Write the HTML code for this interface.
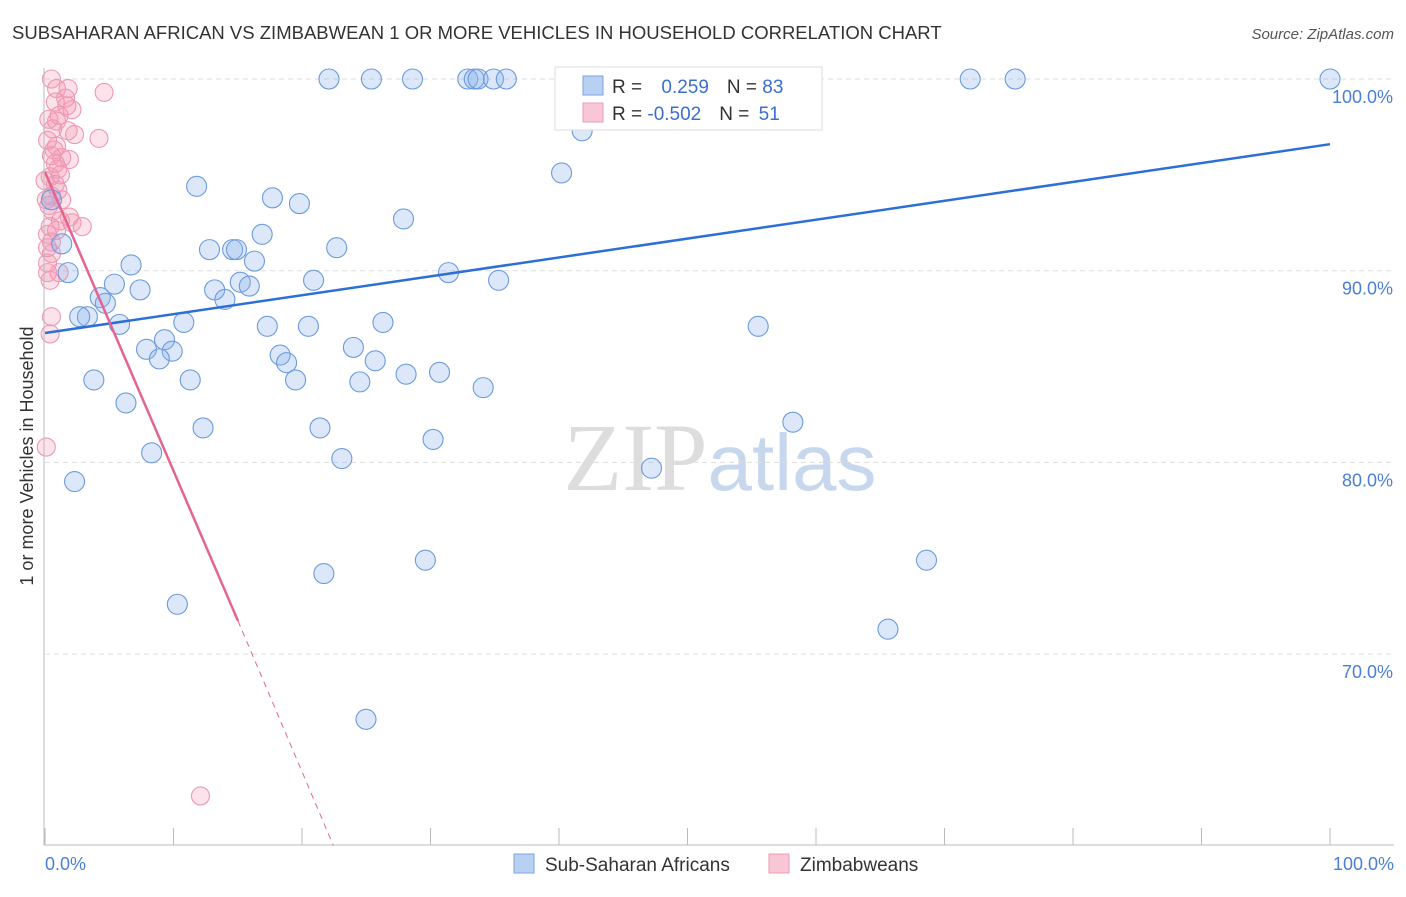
<!DOCTYPE html>
<html><head><meta charset="utf-8"><style>
body{margin:0;background:#fff;font-family:"Liberation Sans",sans-serif}
svg text{font-family:"Liberation Sans",sans-serif}
</style></head><body>
<svg id="chart" width="1406" height="892" viewBox="0 0 1406 892" xmlns="http://www.w3.org/2000/svg">
<text x="12" y="39" font-size="18.5" fill="#333">SUBSAHARAN AFRICAN VS ZIMBABWEAN 1 OR MORE VEHICLES IN HOUSEHOLD CORRELATION CHART</text>
<text x="1394" y="39" font-size="15" fill="#555" text-anchor="end" font-style="italic">Source: ZipAtlas.com</text>
<text x="720" y="490" font-size="96" text-anchor="middle"><tspan fill="#ddd" font-family="Liberation Serif">ZIP</tspan><tspan fill="#c7d8ee" font-size="80">atlas</tspan></text>
<g id="grid"></g><g id="marks"></g><g id="lines"></g>
<line x1="44" y1="68" x2="44" y2="845" stroke="#bbb"/>
<line x1="44" y1="845" x2="1394" y2="845" stroke="#bbb"/>
<text transform="translate(33,456) rotate(-90)" font-size="18" fill="#333" text-anchor="middle">1 or more Vehicles in Household</text>
<text x="45" y="870" font-size="18" fill="#4a7fd6">0.0%</text>
<text x="1394" y="870" font-size="18" fill="#4a7fd6" text-anchor="end">100.0%</text>
<g>
<rect x="555" y="67" width="267" height="63" fill="#fff" stroke="#ddd"/>
<rect x="583" y="76" width="20" height="19" fill="#b8d1f3" stroke="#7aa3e0"/>
<rect x="583" y="103" width="20" height="19" fill="#f9c6d5" stroke="#ee9bb5"/>
<text x="612" y="93" font-size="19" fill="#333">R = <tspan fill="#3a6fd0" dx="14">0.259</tspan><tspan dx="18" fill="#333">N = </tspan><tspan fill="#3a6fd0">83</tspan></text>
<text x="612" y="120" font-size="19" fill="#333">R = <tspan fill="#3a6fd0">-0.502</tspan><tspan dx="18" fill="#333">N = </tspan><tspan fill="#3a6fd0" dx="4">51</tspan></text>
</g>
<g>
<rect x="514" y="854" width="20" height="19" fill="#b8d1f3" stroke="#7aa3e0"/>
<text x="545" y="871" font-size="19" fill="#333">Sub-Saharan Africans</text>
<rect x="769" y="854" width="20" height="19" fill="#f9c6d5" stroke="#ee9bb5"/>
<text x="800" y="871" font-size="19" fill="#333">Zimbabweans</text>
</g>
</svg>
<script>
const yTicks=[100,90,80,70];
const yTickLabels=["100.0%","90.0%","80.0%","70.0%"];
const xTicks=[0,10,20,30,40,50,60,70,80,90,100];
const blueX=[22.1,25.4,28.6,32.9,33.4,33.7,34.9,35.9,43.2,46.1,59.1,72,75.5,100,41.8,40.2,11.8,17.7,19.8,27.9,16.9,12.8,14.6,14.9,22.7,16.3,6.7,31.4,1.8,1.3,0.5,20.9,15.2,35.3,5.4,7.4,13.2,15.9,4.3,4.7,14,3.3,2.7,5.8,10.8,17.3,20.5,26.3,55.5,9.3,7.9,9.9,8.9,24.0,18.3,18.8,25.7,3.8,11.3,19.5,24.5,28.1,30.7,34.1,6.3,12.3,21.4,58.2,30.2,8.3,23.1,47.2,2.3,29.6,68.6,21.7,10.3,65.6,24.98];
const blueY=[100,100,100,100,100,100,100,100,100,100,100,100,100,100,97.3,95.1,94.4,93.8,93.5,92.7,91.9,91.1,91.1,91.1,91.2,90.5,90.3,89.9,89.9,91.4,93.7,89.5,89.4,89.5,89.3,89.0,89.0,89.2,88.6,88.3,88.5,87.6,87.6,87.2,87.3,87.1,87.1,87.3,87.1,86.4,85.9,85.8,85.4,86.0,85.6,85.2,85.3,84.3,84.3,84.3,84.2,84.6,84.7,83.9,83.1,81.8,81.8,82.1,81.2,80.5,80.2,79.7,79.0,74.9,74.9,74.2,72.6,71.3,66.6];
const pinkX=[0.5,0.9,1.8,4.6,0.8,1.7,1.1,0.9,1.8,0.6,4.2,0.9,0.5,1.3,1.9,0.8,1,0.4,0.8,1,0.5,0.3,0.6,1.9,2.9,1.2,0.4,0.2,0.5,0.2,0.5,0.2,1.1,0.4,0.5,0.4,0.1,12.1,0.2,2.1,0,0.1,0.9,1.3,0.2,1.2,2.1,0.7,1.6,0.3,2.3];
const pinkY=[100,99.5,99.5,99.3,98.8,98.6,98.1,97.8,97.3,97.4,96.9,96.5,96.0,95.9,95.8,95.6,95.3,94.9,94.5,94.2,93.9,93.4,93.1,92.8,92.3,92.6,92.3,91.9,91.5,91.2,90.9,90.4,89.9,89.5,87.6,86.7,80.8,62.6,96.8,98.4,94.7,93.7,92.1,93.7,89.9,95.0,92.5,96.3,99.0,97.9,97.1];
const blueTrend=[86.75,96.6];
const pinkTrend=[95.15,71.73,60.0];
const pinkSolidEnd=15.02, pinkDashEnd=22.45;
const X=v=>45+v*12.85, Y=v=>79+(100-v)*19.17;
const NS="http://www.w3.org/2000/svg";
function mk(t,a,p){const e=document.createElementNS(NS,t);for(const k in a)e.setAttribute(k,a[k]);p.appendChild(e);return e;}
const grid=document.getElementById('grid'),marks=document.getElementById('marks'),lines=document.getElementById('lines');
yTicks.forEach((t,i)=>{
 const l=mk('line',{x1:45,x2:1394,y1:Y(t),y2:Y(t),stroke:'#ddd','stroke-dasharray':'5,4'},grid);
 
 
 const tx=mk('text',{x:1393,y:Y(t)+24,'font-size':18,fill:'#4a7fd6','text-anchor':'end'},grid);
 tx.textContent=yTickLabels[i];
 
 
});
xTicks.forEach(t=>{
 const l=mk('line',{x1:X(t),x2:X(t),y1:828,y2:845,stroke:'#bbb'},grid);
 
 
});
pinkX.forEach((x,i)=>{
 const c=mk('circle',{cx:X(x),cy:Y(pinkY[i]),r:9,fill:'rgba(244,150,180,0.28)',stroke:'#ee98b3','stroke-width':1.1},marks);
 
 
});
blueX.forEach((x,i)=>{
 const c=mk('circle',{cx:X(x),cy:Y(blueY[i]),r:10,fill:'rgba(140,180,235,0.3)',stroke:'#6a9ade','stroke-width':1.1},marks);
 
 
});
const bl=mk('line',{x1:X(0),y1:Y(blueTrend[0]),x2:X(100),y2:Y(blueTrend[1]),stroke:'#2c6fd6','stroke-width':2.5},lines);


const pl=mk('line',{x1:X(0),y1:Y(pinkTrend[0]),x2:X(pinkSolidEnd),y2:Y(pinkTrend[1]),stroke:'#e5648f','stroke-width':2.5},lines);


const pd=mk('line',{x1:X(pinkSolidEnd),y1:Y(pinkTrend[1]),x2:X(pinkDashEnd),y2:Y(pinkTrend[2]),stroke:'#e5648f','stroke-width':1,'stroke-dasharray':'6,5'},lines);


</script>
</body></html>
